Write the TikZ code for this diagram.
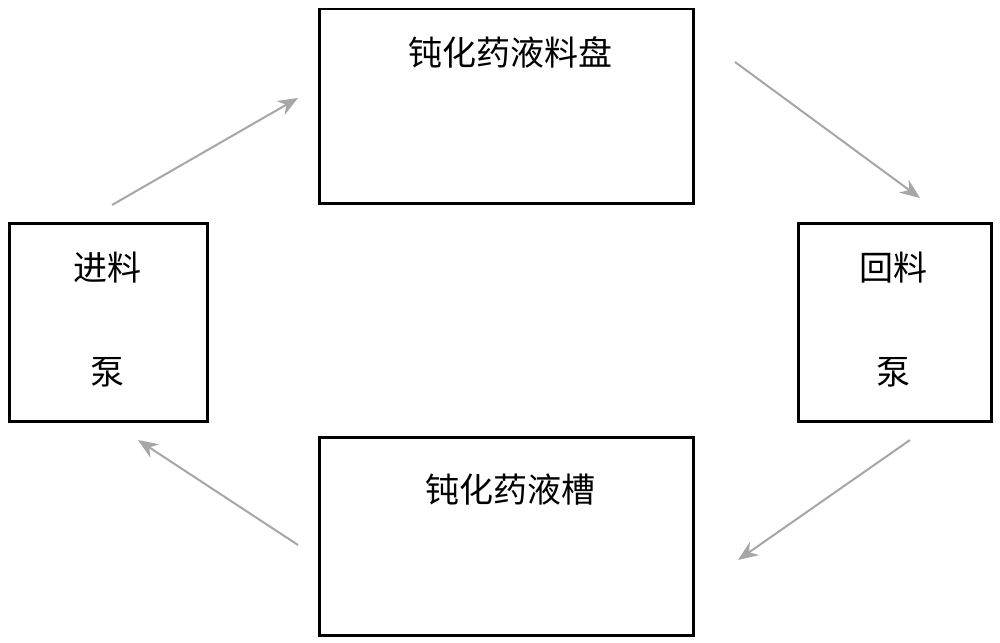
\documentclass[tikz,border=0pt]{standalone}
\usepackage{fontspec}
\newfontfamily\cjk{Noto Sans CJK SC}
\usetikzlibrary{arrows.meta}
\tikzset{
  unitbox/.style={draw, line width=2.5pt, anchor=north west, inner sep=0pt},
  flowarrow/.style={draw=gray!70, line width=2pt, -{Stealth[length=20pt,width=16pt]}},
  boxtext/.style={font=\cjk\fontsize{34}{40}\selectfont, inner sep=0pt}
}
\begin{document}
\begin{tikzpicture}[x=1pt,y=-1pt]
  \useasboundingbox (0,0) rectangle (1000,642);
  % boxes
  \node[unitbox, minimum width=374pt, minimum height=194pt] (tray) at (318,8) {};
  \node[unitbox, minimum width=198pt, minimum height=198pt] (feed) at (8,222) {};
  \node[unitbox, minimum width=193pt, minimum height=198pt] (ret) at (797,222) {};
  \node[unitbox, minimum width=374pt, minimum height=198pt] (tank) at (318,436) {};
  % texts
  \node[boxtext] (traytext) at (510,52) {钝化药液料盘};
  \node[boxtext] (feedtext) at (107,268) {进料};
  \node[boxtext] (feedtext2) at (107,372) {泵};
  \node[boxtext] (rettext) at (893,268) {回料};
  \node[boxtext] (rettext2) at (893,372) {泵};
  \node[boxtext] (tanktext) at (510,490) {钝化药液槽};
  % arrows
  \coordinate (a1) at (112,205); \coordinate (b1) at (298,98);
  \coordinate (a2) at (735,62);  \coordinate (b2) at (920,198);
  \coordinate (a3) at (910,440); \coordinate (b3) at (738,560);
  \coordinate (a4) at (298,545); \coordinate (b4) at (138,440);
  \draw[flowarrow] (a1) -- (b1);
  \draw[flowarrow] (a2) -- (b2);
  \draw[flowarrow] (a3) -- (b3);
  \draw[flowarrow] (a4) -- (b4);
\end{tikzpicture}
\end{document}
